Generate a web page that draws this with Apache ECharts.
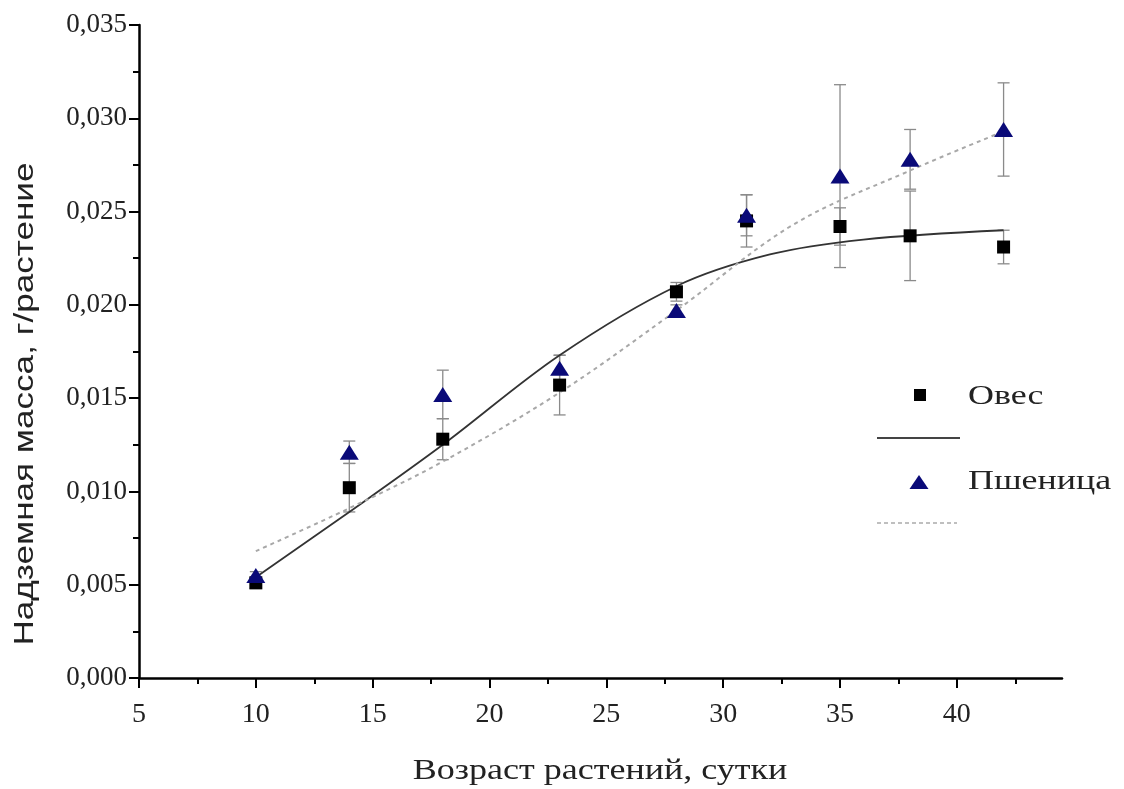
<!DOCTYPE html>
<html><head><meta charset="utf-8">
<script src="https://cdn.jsdelivr.net/npm/echarts@6/dist/echarts.min.js"></script>
<style>html,body{margin:0;padding:0;background:#fff}#c{width:1124px;height:789px}</style>
</head><body><div id="c"></div>
<script>
// ---- data ----
const days = [10, 14, 18, 23, 28, 31, 35, 38, 42];
const oats = [0.0051, 0.0102, 0.0128, 0.0157, 0.0207, 0.0245, 0.0242, 0.0237, 0.0231];
const oatsErr = [0.0003, 0.0013, 0.0011, 0.0016, 0.0005, 0.0014, 0.0010, 0.0024, 0.0009];
const wheat = [0.0055, 0.0121, 0.0152, 0.0166, 0.0197, 0.0248, 0.0269, 0.0278, 0.0294];
const wheatErr = [0.0002, 0.0006, 0.0013, 0.0007, 0.0003, 0.0011, 0.0049, 0.0016, 0.0025];
const oatsFitX = [10, 14, 18, 23, 28, 32, 36, 42];
const oatsFitY = [0.0054, 0.0089, 0.0125, 0.0173, 0.0210, 0.0227, 0.0235, 0.0240];
const wheatFitX = [10, 14, 18, 23, 28, 33, 38, 42];
const wheatFitY = [0.0068, 0.0091, 0.0116, 0.0153, 0.0197, 0.0243, 0.0272, 0.0293];
const xTicks = [5, 10, 15, 20, 25, 30, 35, 40];
const xMinorTicks = [7.5, 12.5, 17.5, 22.5, 27.5, 32.5, 37.5, 42.5];
const seriesNames = ['Овес', 'Пшеница'];
const xTitle = 'Возраст растений, сутки';
const yTitle = 'Надземная масса, г/растение';

const SERIF = '"Liberation Serif", "DejaVu Serif", serif';
const SANS = '"Liberation Sans", Arial, sans-serif';

function errSeries(vals, errs, z) {
  return {
    type: 'custom', z: z, silent: true,
    data: days.map((d, i) => [d, vals[i] - errs[i], vals[i] + errs[i]]),
    encode: { x: 0, y: [1, 2] },
    renderItem: function (params, api) {
      const x = api.value(0);
      const lo = api.coord([x, api.value(1)]);
      const hi = api.coord([x, api.value(2)]);
      const w = 6;
      const style = { stroke: '#8a8a8a', lineWidth: 1.3 };
      return {
        type: 'group', children: [
          { type: 'line', shape: { x1: lo[0], y1: lo[1], x2: hi[0], y2: hi[1] }, style: style },
          { type: 'line', shape: { x1: lo[0] - w, y1: lo[1], x2: lo[0] + w, y2: lo[1] }, style: style },
          { type: 'line', shape: { x1: hi[0] - w, y1: hi[1], x2: hi[0] + w, y2: hi[1] }, style: style }
        ]
      };
    }
  };
}

const chart = echarts.init(document.getElementById('c'));
chart.setOption({
  animation: false,
  backgroundColor: '#fff',
  grid: { left: 139, top: 25, width: 923, height: 653, containLabel: false },
  xAxis: [{
    type: 'value', min: 5, max: 44.5, interval: 5, position: 'bottom',
    axisLine: { show: true, onZero: false, lineStyle: { color: '#000', width: 2.5 } },
    axisTick: { show: true, customValues: xTicks, length: 10, lineStyle: { color: '#000', width: 2 } },
    axisLabel: { customValues: xTicks, margin: 23, fontFamily: SERIF, fontSize: 28, color: '#222' },
    splitLine: { show: false }
  }, {
    type: 'value', min: 5, max: 44.5, interval: 5, position: 'bottom',
    axisLine: { show: false },
    axisTick: { show: true, customValues: xMinorTicks, length: 6, lineStyle: { color: '#000', width: 2 } },
    axisLabel: { show: false },
    splitLine: { show: false }
  }],
  yAxis: {
    type: 'value', min: 0, max: 0.035, interval: 0.005,
    axisLine: { show: true, onZero: false, lineStyle: { color: '#000', width: 2.5 } },
    axisTick: { show: true, length: 10, lineStyle: { color: '#000', width: 2 } },
    minorTick: { show: true, splitNumber: 2, length: 6, lineStyle: { color: '#000', width: 2 } },
    axisLabel: {
      margin: 12, fontFamily: SERIF, fontSize: 27, color: '#222',
      formatter: v => v.toFixed(3).replace('.', ',')
    },
    splitLine: { show: false }, minorSplitLine: { show: false }
  },
  series: [
    errSeries(oats, oatsErr, 2),
    errSeries(wheat, wheatErr, 2),
    {
      type: 'line', name: 'fit1', z: 3, silent: true, smooth: 0.35, showSymbol: false, symbol: 'none',
      data: oatsFitX.map((x, i) => [x, oatsFitY[i]]),
      lineStyle: { color: '#333', width: 1.8 }
    },
    {
      type: 'line', name: 'fit2', z: 3, silent: true, smooth: 0.35, showSymbol: false, symbol: 'none',
      data: wheatFitX.map((x, i) => [x, wheatFitY[i]]),
      lineStyle: { color: '#a8a8a8', width: 2, type: [4, 4] }
    },
    {
      type: 'scatter', name: seriesNames[0], z: 4, symbol: 'rect', symbolSize: 13,
      data: days.map((d, i) => [d, oats[i]]),
      itemStyle: { color: '#000', opacity: 1 }
    },
    {
      type: 'scatter', name: seriesNames[1], z: 5, symbol: 'triangle', symbolSize: [19, 15],
      data: days.map((d, i) => [d, wheat[i]]),
      itemStyle: { color: '#0a0a78', opacity: 1 }
    }
  ],
  graphic: [
    // legend
    { type: 'rect', shape: { x: 914, y: 389, width: 12, height: 12 }, style: { fill: '#000' } },
    { type: 'text', x: 968, y: 397, scaleX: 1.33, style: { text: seriesNames[0], font: '27px ' + SERIF, align: 'left', verticalAlign: 'middle', fill: '#222' } },
    { type: 'line', shape: { x1: 877, y1: 438, x2: 960, y2: 438 }, style: { stroke: '#444', lineWidth: 2 } },
    { type: 'polygon', shape: { points: [[919, 475], [928.5, 489], [909.5, 489]] }, style: { fill: '#0a0a78' } },
    { type: 'text', x: 968, y: 482, scaleX: 1.33, style: { text: seriesNames[1], font: '27px ' + SERIF, align: 'left', verticalAlign: 'middle', fill: '#222' } },
    { type: 'line', shape: { x1: 877, y1: 523, x2: 957, y2: 523 }, style: { stroke: '#aaa', lineWidth: 1.5, lineDash: [4, 3] } },
    // axis titles
    { type: 'text', x: 600, y: 771, scaleX: 1.2, style: { text: xTitle, font: '30px ' + SERIF, align: 'center', verticalAlign: 'middle', fill: '#222' } },
    { type: 'text', x: 26, y: 404, rotation: Math.PI / 2, scaleX: 1.3, style: { text: yTitle, font: '27px ' + SANS, align: 'center', verticalAlign: 'middle', fill: '#222' } }
  ]
});
</script>
</body></html>
